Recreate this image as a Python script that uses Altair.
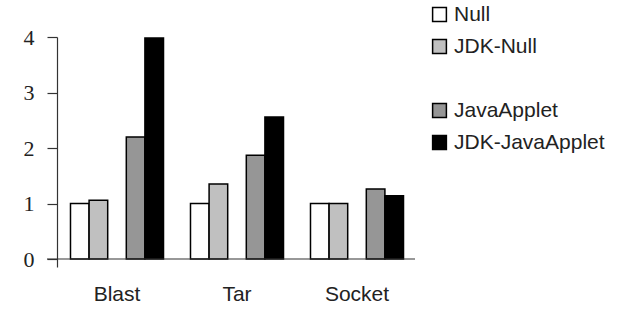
import altair as alt
import pandas as pd

groups = ["Blast", "Tar", "Socket"]
series = ["Null", "JDK-Null", " ", "JavaApplet", "JDK-JavaApplet"]
null_vals = [1.0, 1.0, 1.0]
jdk_null_vals = [1.06, 1.35, 1.0]
applet_vals = [2.2, 1.87, 1.26]
jdk_applet_vals = [3.98, 2.56, 1.14]

fills = ["#ffffff", "#c0c0c0", "transparent", "#969696", "#000000"]
strokes = ["#000000", "#000000", "transparent", "#000000", "#000000"]

rows = []
for name, vals in [("Null", null_vals), ("JDK-Null", jdk_null_vals),
                   ("JavaApplet", applet_vals), ("JDK-JavaApplet", jdk_applet_vals)]:
    for g, v in zip(groups, vals):
        rows.append({"group": g, "series": name, "value": v})
df = pd.DataFrame(rows)

W, H = 360, 230

yscale = alt.Scale(domain=[-0.144, 4], nice=False, zero=False)
yaxis = alt.Axis(values=[0, 1, 2, 3, 4], format="d", grid=False, tickSize=10,
                 tickColor="#333333", domainColor="#333333", tickWidth=1.2,
                 domainWidth=1.2, labelFont="Liberation Serif",
                 labelFontSize=22, labelColor="#222222", labelPadding=13, title=None)

bars = alt.Chart(df).mark_bar(strokeWidth=1.5).encode(
    x=alt.X("group:N", sort=groups, title=None,
            scale=alt.Scale(paddingInner=0, paddingOuter=0),
            axis=alt.Axis(domain=False, ticks=False, labelAngle=0,
                          labelFont="Liberation Sans", labelFontSize=21,
                          labelColor="#222222", labelPadding=16)),
    xOffset=alt.XOffset("series:N", sort=series,
                        scale=alt.Scale(domain=series, paddingInner=0, paddingOuter=0.725)),
    y=alt.Y("value:Q", scale=yscale, title=None, axis=yaxis),
    y2=alt.datum(0),
    fill=alt.Fill("series:N", sort=series,
                  scale=alt.Scale(domain=series, range=fills),
                  legend=alt.Legend(title=None, orient="none", legendX=372, legendY=-33,
                                    symbolType="square", symbolSize=190,
                                    symbolStrokeWidth=1.5, labelFont="Liberation Sans",
                                    labelFontSize=21, labelColor="#222222",
                                    labelOffset=4, rowPadding=10, padding=0)),
    stroke=alt.Stroke("series:N", sort=series,
                      scale=alt.Scale(domain=series, range=strokes), legend=None),
)

axis_line = alt.Chart(pd.DataFrame({"v": [0]})).mark_rule(
    color="#333333", strokeWidth=1.2).encode(
    y=alt.Y("v:Q", scale=yscale, title=None, axis=yaxis),
    x=alt.value(-10), x2=alt.value(W - 2),
)

chart = alt.layer(bars, axis_line).properties(
    width=W, height=H,
    autosize=alt.AutoSizeParams(type="none"),
    padding={"left": 57, "top": 37, "right": 630 - 57 - W, "bottom": 314 - 37 - H},
    background="white",
).configure_view(stroke=None)

chart.save("out.html", embed_options={"renderer": "svg", "actions": False})
